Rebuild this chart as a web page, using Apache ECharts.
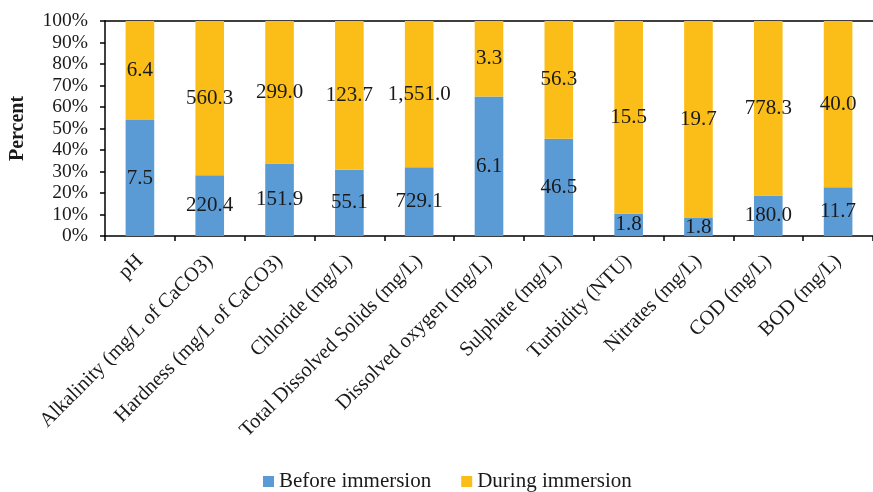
<!DOCTYPE html>
<html>
<head>
<meta charset="utf-8">
<script src="https://cdn.jsdelivr.net/npm/echarts@6/dist/echarts.min.js"></script>
<style>
  html, body { margin: 0; padding: 0; background: #fff; }
  #chart { width: 873px; height: 492px; }
</style>
</head>
<body>
<div id="chart"></div>
<script>
// Water-quality parameters measured before and during immersion
const categories = [
  'pH',
  'Alkalinity (mg/L of CaCO3)',
  'Hardness (mg/L of CaCO3)',
  'Chloride (mg/L)',
  'Total Dissolved Solids (mg/L)',
  'Dissolved oxygen (mg/L)',
  'Sulphate (mg/L)',
  'Turbidity (NTU)',
  'Nitrates (mg/L)',
  'COD (mg/L)',
  'BOD (mg/L)'
];
const beforeImmersion = [7.5, 220.4, 151.9, 55.1, 729.1, 6.1, 46.5, 1.8, 1.8, 180.0, 11.7];
const duringImmersion = [6.4, 560.3, 299.0, 123.7, 1551.0, 3.3, 56.3, 15.5, 19.7, 778.3, 40.0];
const percentTicks = [0, 10, 20, 30, 40, 50, 60, 70, 80, 90, 100];

const serif = 'Liberation Serif';

// Each column is shown as a share of the before + during total (100% stacked)
function shareOf(values, other) {
  return values.map((v, i) => ({ value: v / (v + other[i]) * 100, raw: v }));
}

const fmt = new Intl.NumberFormat('en-US', { minimumFractionDigits: 1, maximumFractionDigits: 1 });

const labelStyle = {
  show: true,
  position: 'inside',
  fontFamily: serif,
  fontSize: 21,
  color: '#1a1a1a',
  formatter: p => fmt.format(p.data.raw)
};

const chart = echarts.init(document.getElementById('chart'), null, { renderer: 'canvas' });

chart.setOption({
  animation: false,
  backgroundColor: '#ffffff',
  grid: { left: 105, top: 21, width: 775, height: 215, containLabel: false },
  legend: {
    bottom: 0,
    left: 263,
    padding: 0,
    itemWidth: 11,
    itemHeight: 11,
    itemGap: 30,
    icon: 'rect',
    textStyle: { fontFamily: serif, fontSize: 21, color: '#1a1a1a' },
    data: ['Before immersion', 'During immersion']
  },
  xAxis: [
    {
      type: 'category',
      data: categories,
      axisLine: { lineStyle: { color: '#000', width: 1.5 } },
      axisTick: { show: true, length: 5, alignWithLabel: false, lineStyle: { color: '#000', width: 1.5 } },
      axisLabel: {
        interval: 0,
        rotate: 45,
        margin: 22,
        fontFamily: serif,
        fontSize: 20.5,
        color: '#1a1a1a'
      }
    },
    {
      // top border of the plot area
      type: 'category',
      position: 'top',
      data: categories,
      axisLine: { show: true, lineStyle: { color: '#000', width: 1.5 } },
      axisTick: { show: false },
      axisLabel: { show: false }
    }
  ],
  yAxis: {
    type: 'value',
    min: percentTicks[0],
    max: percentTicks[percentTicks.length - 1],
    interval: percentTicks[1] - percentTicks[0],
    name: 'Percent',
    nameLocation: 'middle',
    nameGap: 77,
    nameRotate: 90,
    nameTextStyle: { fontFamily: serif, fontSize: 20, fontWeight: 'bold', color: '#1a1a1a' },
    axisLine: { show: true, lineStyle: { color: '#000', width: 1.5 } },
    axisTick: { show: true, length: 5, lineStyle: { color: '#000', width: 1.5 } },
    splitLine: { show: false },
    axisLabel: {
      margin: 17,
      fontFamily: serif,
      fontSize: 19.5,
      color: '#1a1a1a',
      formatter: v => v + '%'
    }
  },
  series: [
    {
      name: 'Before immersion',
      type: 'bar',
      stack: 'share',
      barWidth: '41%',
      itemStyle: { color: '#5b9bd5' },
      label: labelStyle,
      data: shareOf(beforeImmersion, duringImmersion)
    },
    {
      name: 'During immersion',
      type: 'bar',
      stack: 'share',
      barWidth: '41%',
      itemStyle: { color: '#fbbd18' },
      label: labelStyle,
      data: shareOf(duringImmersion, beforeImmersion)
    }
  ]
});
</script>
</body>
</html>
